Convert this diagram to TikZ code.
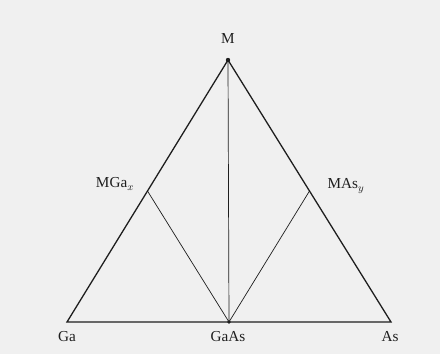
\documentclass[tikz,border=0pt]{standalone}
\usepackage{fontspec}
\setmainfont{Liberation Serif}
\usetikzlibrary{calc}
\definecolor{paper}{HTML}{F0F0F0}
\definecolor{ink}{HTML}{1E1E1E}

\begin{document}
\begin{tikzpicture}[x=0.03cm,y=0.03cm]
  \tikzset{
    side/.style={line width=1.1pt,ink},
    tie/.style={line width=0.6pt,ink},
    lbl/.style={font=\fontsize{13}{15}\selectfont,text=ink,inner sep=1pt}
  }
  \fill[paper] (0,0) rectangle (440,354);
  \useasboundingbox (0,0) rectangle (440,354);
  % corners of the phase triangle
  \coordinate (M) at (228,294);
  \coordinate (Ga) at (67,32);
  \coordinate (As) at (391,32);
  \coordinate (GaAs) at (229,32);
  \coordinate (MGa) at ($(Ga)!0.5!(M)$);
  \coordinate (MAs) at ($(As)!0.5!(M)$);
  \draw[side] (Ga) -- (M) -- (As) -- cycle;
  \draw[tie] (M) -- (GaAs);
  \draw[tie] (MGa) -- (GaAs) -- (MAs);
  \fill[ink] (M) circle (2.2);
  \fill[ink] (GaAs) circle (1.8);
  % labels
  \node[lbl] (lM) at (228,315) {M};
  \node[lbl] (lGa) at (67,17) {Ga};
  \node[lbl] (lGaAs) at (228,17) {GaAs};
  \node[lbl] (lAs) at (390,17) {As};
  \node[lbl] (lMGa) at (115,170) {MGa$_x$};
  \node[lbl] (lMAs) at (346,168) {MAs$_y$};
\end{tikzpicture}
\end{document}
